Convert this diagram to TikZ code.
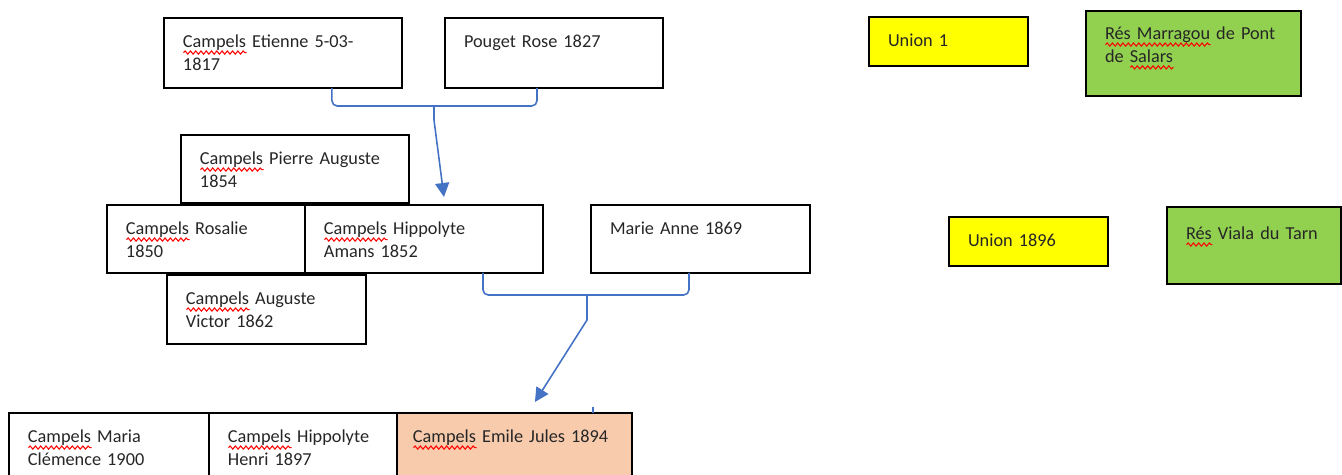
\documentclass[tikz,border=0pt]{standalone}
\usepackage{fontspec}
\setmainfont{Carlito}
\usetikzlibrary{positioning, arrows.meta, calc, decorations.pathmorphing}

\definecolor{linkblue}{RGB}{68,114,196}
\definecolor{unionyellow}{RGB}{255,255,0}
\definecolor{resgreen}{RGB}{146,208,80}
\definecolor{peach}{RGB}{248,203,173}

\newsavebox\squigbox
\newcommand\squig[1]{\sbox\squigbox{#1}\rlap{\tikz[baseline=0pt]\draw[red, line width=0.6pt,
  decorate, decoration={snake, segment length=3pt, amplitude=0.9pt}]
  (0pt,-2.6pt) -- (\the\wd\squigbox,-2.6pt);}\usebox\squigbox}

\begin{document}
\begin{tikzpicture}[
  x=0.02cm, y=-0.02cm,
  font=\fontsize{10.4pt}{13pt}\selectfont,
  person/.style={draw=black, line width=0.8pt, anchor=north west, align=left, outer sep=0pt,
    inner xsep=0.38cm, inner ysep=0pt, text height=0.60cm, text depth=0.78cm, text=black!85},
  union/.style={person, fill=unionyellow, text depth=0.38cm},
  place/.style={person, fill=resgreen},
  link/.style={draw=linkblue, line width=0.9pt, rounded corners=3pt},
  descent/.style={draw=linkblue, line width=0.9pt, -{Triangle[length=0.28cm, width=0.28cm]}}
]
\useasboundingbox (0,0) rectangle (1342,475);

\node[person, text width=4.00cm, text depth=0.80cm] (etienne) at (164,18)
  {\squig{Campels} Etienne 5-03-\\1817};
\node[person, text width=3.60cm, text depth=0.80cm] (pouget) at (445,18) {Pouget Rose 1827};

\node[person, text width=3.80cm, text depth=0.76cm] (pierre) at (181,135)
  {\squig{Campels} Pierre Auguste\\1854};
\node[person, text width=3.20cm, text depth=0.76cm] (rosalie) at (107,205)
  {\squig{Campels} Rosalie\\1850};
\node[person, text width=4.00cm, text depth=0.76cm, right=0pt of rosalie] (amans)
  {\squig{Campels} Hippolyte\\Amans 1852};
\node[person, text width=3.62cm, text depth=0.76cm] (marie) at (591,205) {Marie Anne 1869};
\node[person, text width=3.22cm] (victor) at (167,275)
  {\squig{Campels} Auguste\\Victor 1862};

\node[person, text width=3.24cm, text depth=0.80cm] (clemence) at (9,413)
  {\squig{Campels} Maria\\Clémence 1900};
\node[person, text width=3.00cm, text depth=0.80cm, right=0pt of clemence] (henri)
  {\squig{Campels} Hippolyte\\Henri 1897};
\node[person, fill=peach, text width=4.06cm, inner xsep=0.32cm, text depth=0.80cm,
  right=0pt of henri] (emile) {\squig{Campels} Emile Jules 1894};

\node[union, text width=2.42cm] (union1) at (869,17) {Union 1};
\node[place, text width=3.54cm, text height=0.58cm, text depth=1.12cm] (marragou) at (1086,11)
  {\squig{Rés Marragou} de Pont\\de \squig{Salars}};
\node[union, text width=2.42cm] (union1896) at (949,217) {Union 1896};
\node[place, text width=2.72cm, text height=0.66cm, text depth=0.88cm] (viala) at (1167,207)
  {\squig{Rés} Viala du Tarn};

\coordinate (fork1) at (434,106);
\coordinate (fork2) at (587,295);

\draw[link] ($(etienne.south east)+(-70,0)$) |- (fork1) -| ($(pouget.south west)+(92,0)$);
\draw[descent] (fork1) -- ++(0,14) -- ($(amans.north west)+(139,-8)$);

\draw[link] ($(amans.south west)+(178,0)$) |- (fork2) -| ($(marie.south west)+(98,0)$);
\draw[descent] (fork2) -- ++(0,25) -- ($(emile.north west)+(138,-11)$);
\draw[link] ($(emile.north west)+(196,-6)$) -- ($(emile.north west)+(196,0)$);

\end{tikzpicture}
\end{document}
